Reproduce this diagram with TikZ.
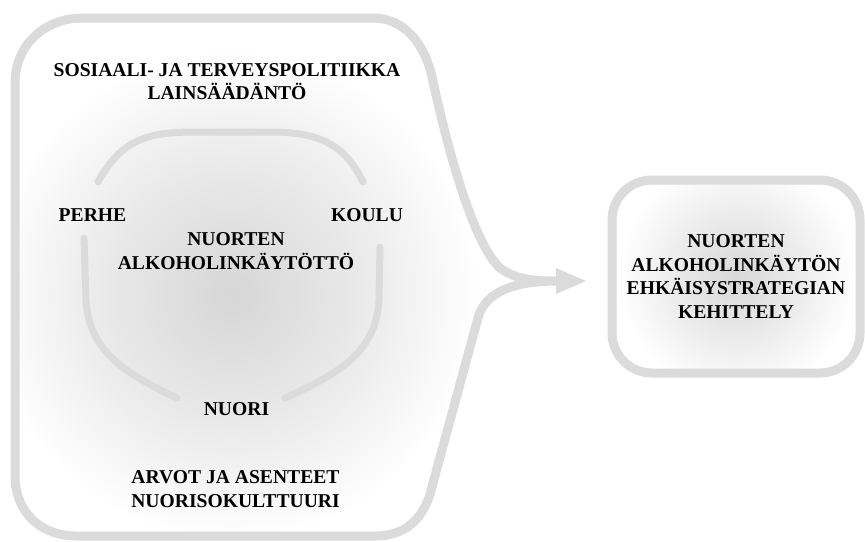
\documentclass[tikz,border=0pt]{standalone}
\usepackage{fontspec}
\setmainfont{Liberation Serif}
\definecolor{rimgray}{RGB}{219,219,219}
% soft grey glows that fade to white; used at their natural size
\pgfdeclareradialshading{softglow}{\pgfpoint{0bp}{0bp}}{color(0bp)=(black!16); color(120bp)=(black!9); color(245bp)=(white); color(400bp)=(white)}
\pgfdeclareradialshading{boxglow}{\pgfpoint{0bp}{0bp}}{color(0bp)=(black!15); color(45bp)=(black!10); color(118bp)=(white); color(200bp)=(white)}
\begin{document}
\begin{tikzpicture}[x=1pt,y=-1pt,
  rim/.style={draw=rimgray, line width=9pt, line join=round},
  bracket/.style={draw=rimgray, line width=7pt, line cap=round},
  caption/.style={font=\fontsize{19.6}{23.4}\selectfont\bfseries, align=center, anchor=base, inner sep=0pt}]
\useasboundingbox (0,0) rectangle (865,541);

% outline of the surroundings, ending in an arrow on the right
\def\outerpath{(15,83) .. controls (15,45) and (45,18) .. (82,18) -- (373,18)
  .. controls (405,18) and (425,45) .. (432,77)
  .. controls (450,160) and (475,245) .. (500,268)
  .. controls (515,279) and (532,281) .. (558,281)
  .. controls (522,281) and (486,288) .. (478,318)
  -- (433,483) .. controls (425,520) and (405,536) .. (375,536)
  -- (77,536) .. controls (40,536) and (15,512) .. (15,475) -- cycle}

\begin{scope}
  \clip \outerpath;
  \node[inner sep=0pt] (glowleft) at (232,295) {\pgfuseshading{softglow}};
\end{scope}
\draw[rim] \outerpath;
\fill[rimgray] (556,268) -- (586,281) -- (556,294) -- cycle;

% three arcs around the central topic
\draw[bracket] (98,182) .. controls (122,138) and (150,132) .. (195,132) -- (270,132)
  .. controls (320,132) and (345,145) .. (363,182);
\draw[bracket] (84,238) -- (86,300) .. controls (89,350) and (122,372) .. (177,398);
\draw[bracket] (380,247) -- (379,300) .. controls (376,350) and (343,372) .. (285,398);

% labels (a node's base is the baseline of its last line)
\node[caption] (policy) at (227,99.5) {SOSIAALI- JA TERVEYSPOLITIIKKA\\LAINSÄÄDÄNTÖ};
\node[caption] (family) at (92.5,221) {PERHE};
\node[caption] (school) at (367,221) {KOULU};
\node[caption] (use) at (236,269) {NUORTEN\\ALKOHOLINKÄYTÖTTÖ};
\node[caption] (youth) at (236.5,415) {NUORI};
\node[caption] (values) at (235.5,507) {ARVOT JA ASENTEET\\NUORISOKULTTUURI};

% target box
\begin{scope}
  \clip[rounded corners=40pt] (612,180) rectangle (860,373);
  \node[inner sep=0pt] (glowright) at (737,277) {\pgfuseshading{boxglow}};
\end{scope}
\node[draw=rimgray, line width=9pt, rounded corners=40pt,
  minimum width=248pt, minimum height=193pt, inner sep=0pt, align=center,
  font=\fontsize{19.6}{23.4}\selectfont\bfseries] (goal) at (736,276.5)
  {NUORTEN\\ALKOHOLINKÄYTÖN\\EHKÄISYSTRATEGIAN\\KEHITTELY};
\end{tikzpicture}
\end{document}
